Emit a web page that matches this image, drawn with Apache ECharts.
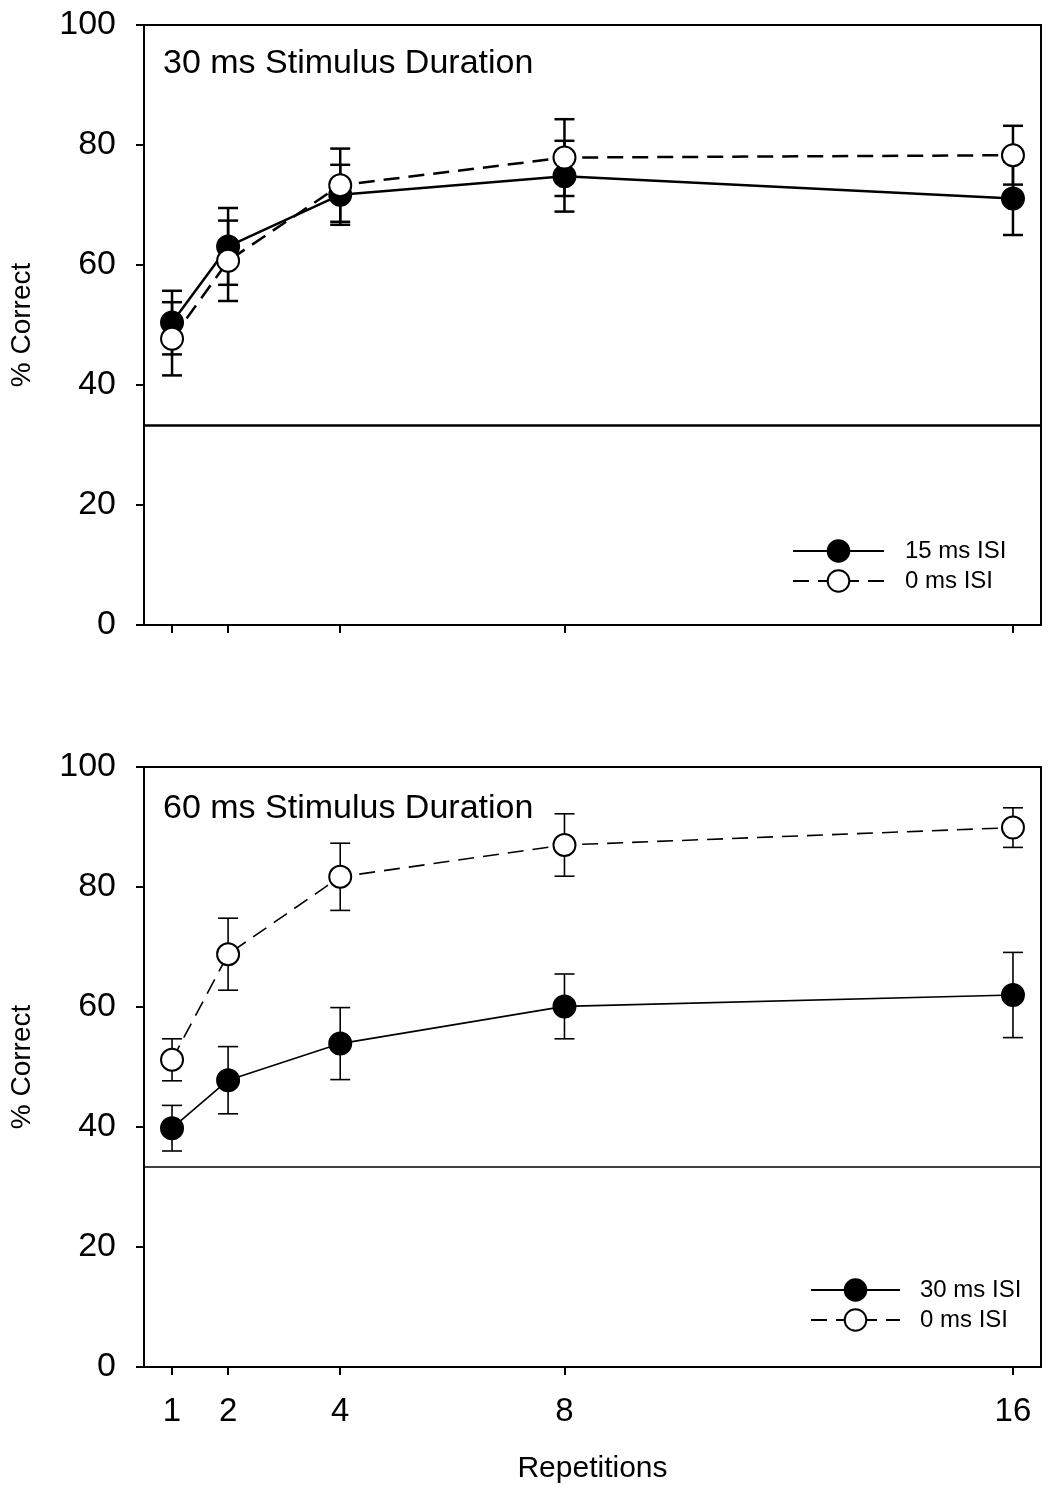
<!DOCTYPE html>
<html>
<head>
<meta charset="utf-8">
<script src="https://cdn.jsdelivr.net/npm/echarts@6/dist/echarts.min.js"></script>
<style>html,body{margin:0;padding:0;background:#fff;}#c{width:1058px;height:1494px;}</style>
</head>
<body>
<div id="c"></div>
<script>
const reps = [1, 2, 4, 8, 16];
const xTicks = [1, 2, 4, 8, 16];
const yTicks = [0, 20, 40, 60, 80, 100];
const chance = 33.33;

// Top panel: 30 ms stimulus duration
const top15Name = '15 ms ISI';
const top15 = [50.4, 63.1, 71.7, 74.8, 71.1];
const top15Err = [5.3, 6.4, 5.0, 5.9, 6.1];
const top0Name = '0 ms ISI';
const top0 = [47.7, 60.7, 73.3, 77.9, 78.3];
const top0Err = [6.1, 6.7, 6.1, 6.4, 4.9];

// Bottom panel: 60 ms stimulus duration
const bot30Name = '30 ms ISI';
const bot30 = [39.8, 47.8, 53.9, 60.1, 62.0];
const bot30Err = [3.8, 5.6, 6.0, 5.4, 7.1];
const bot0Name = '0 ms ISI (60)';
const bot0 = [51.2, 68.8, 81.7, 87.0, 89.9];
const bot0Err = [3.5, 6.0, 5.6, 5.2, 3.3];

const FONT = 'Liberation Sans, Arial, sans-serif';

function pts(vals) { return reps.map((r, i) => [r, vals[i]]); }
function errPts(vals, errs) { return reps.map((r, i) => [r, vals[i], errs[i]]); }

function errSeries(idx, vals, errs, lw) {
  return {
    type: 'custom', xAxisIndex: idx, yAxisIndex: idx, z: 1, silent: true,
    data: errPts(vals, errs),
    renderItem: function (params, api) {
      const x = api.value(0), y = api.value(1), e = api.value(2);
      const hi = api.coord([x, y + e]), lo = api.coord([x, y - e]);
      const w = 10;
      const st = { stroke: '#000', lineWidth: lw };
      return {
        type: 'group', children: [
          { type: 'line', shape: { x1: hi[0], y1: hi[1], x2: lo[0], y2: lo[1] }, style: st },
          { type: 'line', shape: { x1: hi[0] - w, y1: hi[1], x2: hi[0] + w, y2: hi[1] }, style: st },
          { type: 'line', shape: { x1: lo[0] - w, y1: lo[1], x2: lo[0] + w, y2: lo[1] }, style: st }
        ]
      };
    }
  };
}

function lineSeries(idx, name, vals, filled, lw, dash, withChance) {
  const s = {
    type: 'line', name: name, xAxisIndex: idx, yAxisIndex: idx, z: filled ? 3 : 4,
    data: pts(vals), symbol: 'circle', symbolSize: 22, showSymbol: true,
    lineStyle: { color: '#000', width: lw, type: dash ? [16, 9] : 'solid' },
    itemStyle: { color: filled ? '#000' : '#fff', borderColor: '#000', borderWidth: 2 },
    emphasis: { disabled: true }, animation: false
  };
  if (withChance) {
    s.markLine = {
      silent: true, symbol: 'none', label: { show: false },
      lineStyle: { color: '#000', width: lw, type: 'solid' },
      data: [{ yAxis: chance }]
    };
  }
  return s;
}

function xAxis(idx, showLabels) {
  return {
    type: 'value', gridIndex: idx, min: 0.5, max: 16.5,
    axisLine: { show: true, lineStyle: { color: '#000', width: 2 } },
    axisTick: { show: true, length: 8, customValues: xTicks, lineStyle: { color: '#000', width: 2 } },
    axisLabel: { show: showLabels, customValues: xTicks, margin: 28, color: '#000', fontSize: 33, fontFamily: FONT },
    splitLine: { show: false },
    name: showLabels ? 'Repetitions' : '', nameLocation: 'middle', nameGap: 87,
    nameTextStyle: { color: '#000', fontSize: 30, fontFamily: FONT }
  };
}
function yAxis(idx) {
  return {
    type: 'value', gridIndex: idx, min: yTicks[0], max: yTicks[yTicks.length - 1], interval: 20,
    axisLine: { show: true, lineStyle: { color: '#000', width: 2 } },
    axisTick: { show: true, length: 8, lineStyle: { color: '#000', width: 2 } },
    axisLabel: { margin: 28, color: '#000', fontSize: 34, fontFamily: FONT },
    splitLine: { show: false },
    name: '% Correct', nameLocation: 'middle', nameRotate: 90, nameGap: 108,
    nameTextStyle: { color: '#000', fontSize: 28, fontFamily: FONT }
  };
}

const chart = echarts.init(document.getElementById('c'), null, { renderer: 'canvas' });
chart.setOption({
  backgroundColor: '#fff',
  animation: false,
  title: [
    { text: '30 ms Stimulus Duration', left: 163, top: 47, padding: 0, textStyle: { color: '#000', fontSize: 34, fontWeight: 'normal', fontFamily: FONT } },
    { text: '60 ms Stimulus Duration', left: 163, top: 792, padding: 0, textStyle: { color: '#000', fontSize: 34, fontWeight: 'normal', fontFamily: FONT } }
  ],
  legend: [
    {
      data: [top15Name, top0Name], orient: 'vertical', left: 792, top: 539, padding: 0,
      itemWidth: 91, itemHeight: 27, itemGap: 6, selectedMode: false,
      textStyle: { color: '#000', fontSize: 24, fontFamily: FONT, padding: [0, 0, 0, 16] }
    },
    {
      data: [bot30Name, bot0Name], orient: 'vertical', left: 810, top: 1278, padding: 0,
      itemWidth: 89, itemHeight: 27, itemGap: 6, selectedMode: false,
      formatter: function (n) { return n.replace(/ \(.*\)$/, ''); },
      textStyle: { color: '#000', fontSize: 24, fontFamily: FONT, padding: [0, 0, 0, 15] }
    }
  ],
  grid: [
    { left: 144, top: 25, width: 897, height: 600, show: true, borderColor: '#000', borderWidth: 2 },
    { left: 144, top: 767, width: 897, height: 600, show: true, borderColor: '#000', borderWidth: 2 }
  ],
  xAxis: [xAxis(0, false), xAxis(1, true)],
  yAxis: [yAxis(0), yAxis(1)],
  series: [
    errSeries(0, top15, top15Err, 2.5),
    errSeries(0, top0, top0Err, 2.5),
    lineSeries(0, top15Name, top15, true, 2.5, false, true),
    lineSeries(0, top0Name, top0, false, 2.5, true, false),
    errSeries(1, bot30, bot30Err, 1.6),
    errSeries(1, bot0, bot0Err, 1.6),
    lineSeries(1, bot30Name, bot30, true, 1.6, false, true),
    lineSeries(1, bot0Name, bot0, false, 1.6, true, false)
  ]
});
</script>
</body>
</html>
